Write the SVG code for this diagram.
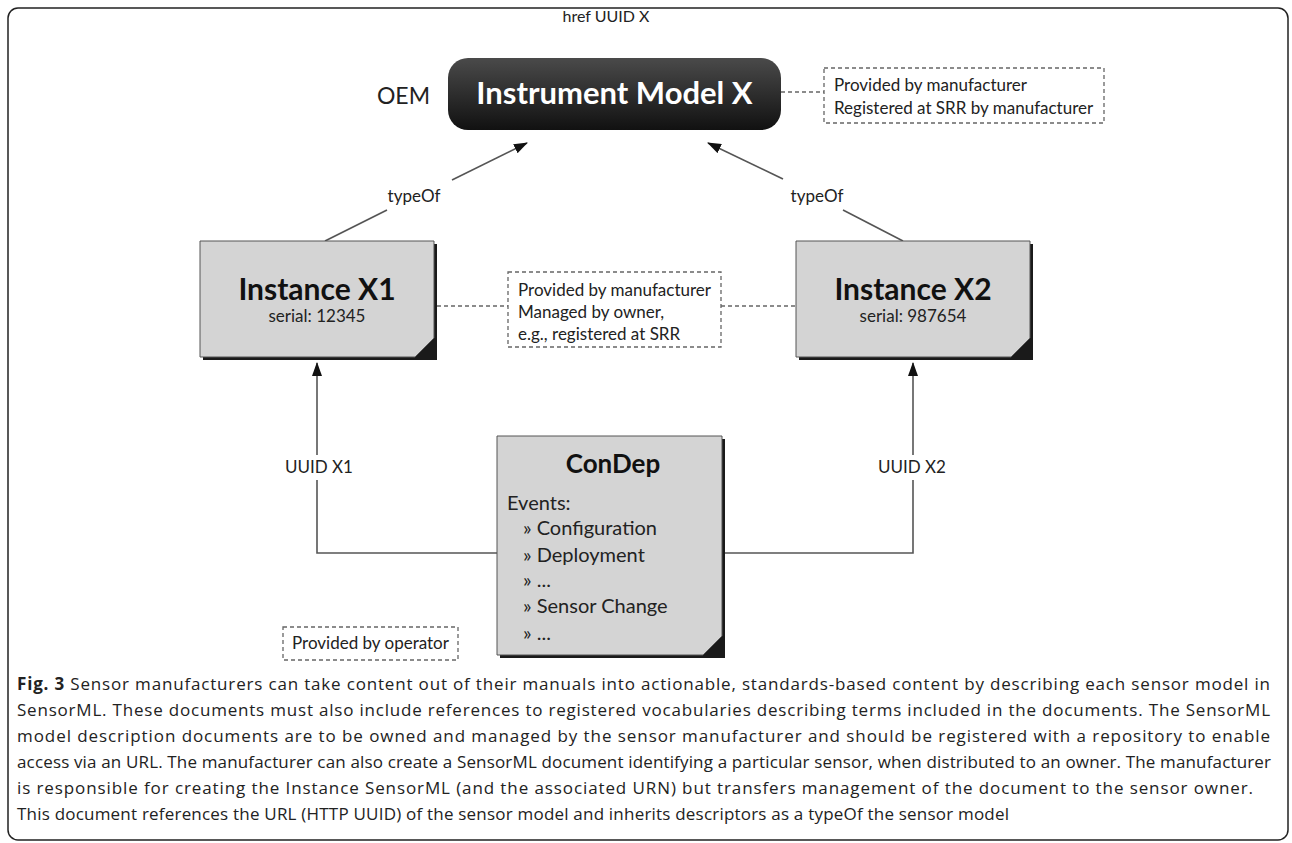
<svg xmlns="http://www.w3.org/2000/svg" width="1292" height="843" viewBox="0 0 1292 843">
<defs>
<linearGradient id="dark" x1="0" y1="0" x2="0" y2="1">
<stop offset="0" stop-color="#4a4a4a"/>
<stop offset="1" stop-color="#111"/>
</linearGradient>
<marker id="arr" markerWidth="14" markerHeight="10" refX="13" refY="5" orient="auto" markerUnits="userSpaceOnUse">
<path d="M0,0 L14,5 L0,10 Z" fill="#111"/>
</marker>
<style>
.conn{stroke:#555;stroke-width:1.6;fill:none}
.dash{stroke:#666;stroke-width:1.3;stroke-dasharray:4 3;fill:none}
.lbl{font-family:Lato,"Liberation Sans",sans-serif;font-size:17px;fill:#222}
.head{font-family:Lato,"Liberation Sans",sans-serif;font-weight:bold;fill:#111}
.box{fill:#d4d4d4;stroke:#555;stroke-width:1}
.shadow{fill:#1a1a1a}
.cap{font-family:"Open Sans","Liberation Sans",sans-serif;font-size:17px;fill:#222}
</style>
</defs>
<rect x="8" y="8" width="1280" height="832" rx="10" fill="#fff" stroke="#222" stroke-width="1.5"/>

<g id="connectors">
<line class="conn" x1="325" y1="241" x2="387" y2="210"/>
<line class="conn" x1="452" y1="180" x2="527" y2="143" marker-end="url(#arr)"/>
<text class="lbl" x="414" y="202" text-anchor="middle">typeOf</text>
<line class="conn" x1="903" y1="241" x2="843" y2="210"/>
<line class="conn" x1="783" y1="179" x2="708" y2="143" marker-end="url(#arr)"/>
<text class="lbl" x="817" y="202" text-anchor="middle">typeOf</text>
<polyline class="conn" points="497,553 317,553 317,480"/>
<line class="conn" x1="317" y1="455" x2="317" y2="363" marker-end="url(#arr)"/>
<text class="lbl" x="319" y="473" text-anchor="middle">UUID X1</text>
<polyline class="conn" points="722,553 913,553 913,480"/>
<line class="conn" x1="913" y1="455" x2="913" y2="363" marker-end="url(#arr)"/>
<text class="lbl" x="912" y="473" text-anchor="middle">UUID X2</text>
<line class="dash" x1="781" y1="92" x2="824" y2="92"/>
<line class="dash" x1="437" y1="306" x2="508" y2="306"/>
<line class="dash" x1="721" y1="306" x2="796" y2="306"/>
</g>

<g id="oem-label">
<text class="lbl" x="430" y="104" text-anchor="end" style="font-size:23px">OEM</text>
<text class="lbl" x="606" y="22" text-anchor="middle" style="font-size:16px">href UUID X</text>
</g>

<g id="instrument-model-x">
<rect x="448" y="58" width="333" height="72" rx="20" fill="url(#dark)"/>
<text x="614.5" y="104" text-anchor="middle" style="font-family:Lato,'Liberation Sans',sans-serif;font-weight:bold;font-size:31px;fill:#fff">Instrument Model X</text>
</g>

<g id="note-model">
<rect class="dash" x="824" y="68" width="280" height="55"/>
<text class="lbl" x="834" y="91">Provided by manufacturer</text>
<text class="lbl" x="834" y="114">Registered at SRR by manufacturer</text>
</g>

<g id="instance-x1">
<rect class="shadow" x="203" y="244" width="234" height="116"/>
<path class="box" d="M200 241 H434 V338 L415 357 H200 Z"/>
<text class="head" x="317" y="300" text-anchor="middle" font-size="30">Instance X1</text>
<text class="lbl" x="317" y="322" text-anchor="middle">serial: 12345</text>
</g>

<g id="instance-x2">
<rect class="shadow" x="799" y="244" width="234" height="116"/>
<path class="box" d="M796 241 H1030 V338 L1011 357 H796 Z"/>
<text class="head" x="913" y="300" text-anchor="middle" font-size="30">Instance X2</text>
<text class="lbl" x="913" y="322" text-anchor="middle">serial: 987654</text>
</g>

<g id="note-instance">
<rect class="dash" x="508" y="272" width="213" height="75"/>
<text class="lbl" x="518" y="296">Provided by manufacturer</text>
<text class="lbl" x="518" y="318">Managed by owner,</text>
<text class="lbl" x="518" y="340">e.g., registered at SRR</text>
</g>

<g id="condep">
<rect class="shadow" x="500" y="439" width="225" height="219"/>
<path class="box" d="M497 436 H722 V636 L703 655 H497 Z"/>
<text class="head" x="613" y="473" text-anchor="middle" font-size="26">ConDep</text>
<text class="lbl" x="507" y="510" style="font-size:20px">Events:</text>
<text class="lbl" x="523" y="535" style="font-size:20px">» Configuration</text>
<text class="lbl" x="523" y="562" style="font-size:20px">» Deployment</text>
<text class="lbl" x="523" y="587" style="font-size:20px">» ...</text>
<text class="lbl" x="523" y="613" style="font-size:20px">» Sensor Change</text>
<text class="lbl" x="523" y="640" style="font-size:20px">» ...</text>
</g>

<g id="note-operator">
<rect class="dash" x="283" y="627" width="175" height="33"/>
<text class="lbl" x="292" y="649">Provided by operator</text>
</g>

<g id="caption">
<text class="cap" x="17" y="690" textLength="1253"><tspan font-weight="bold">Fig. 3</tspan> Sensor manufacturers can take content out of their manuals into actionable, standards-based content by describing each sensor model in</text>
<text class="cap" x="17" y="716" textLength="1253">SensorML. These documents must also include references to registered vocabularies describing terms included in the documents. The SensorML</text>
<text class="cap" x="17" y="742" textLength="1253">model description documents are to be owned and managed by the sensor manufacturer and should be registered with a repository to enable</text>
<text class="cap" x="17" y="768" textLength="1254">access via an URL. The manufacturer can also create a SensorML document identifying a particular sensor, when distributed to an owner. The manufacturer</text>
<text class="cap" x="17" y="794" textLength="1236">is responsible for creating the Instance SensorML (and the associated URN) but transfers management of the document to the sensor owner.</text>
<text class="cap" x="17" y="820" textLength="992">This document references the URL (HTTP UUID) of the sensor model and inherits descriptors as a typeOf the sensor model</text>
</g>
</svg>
